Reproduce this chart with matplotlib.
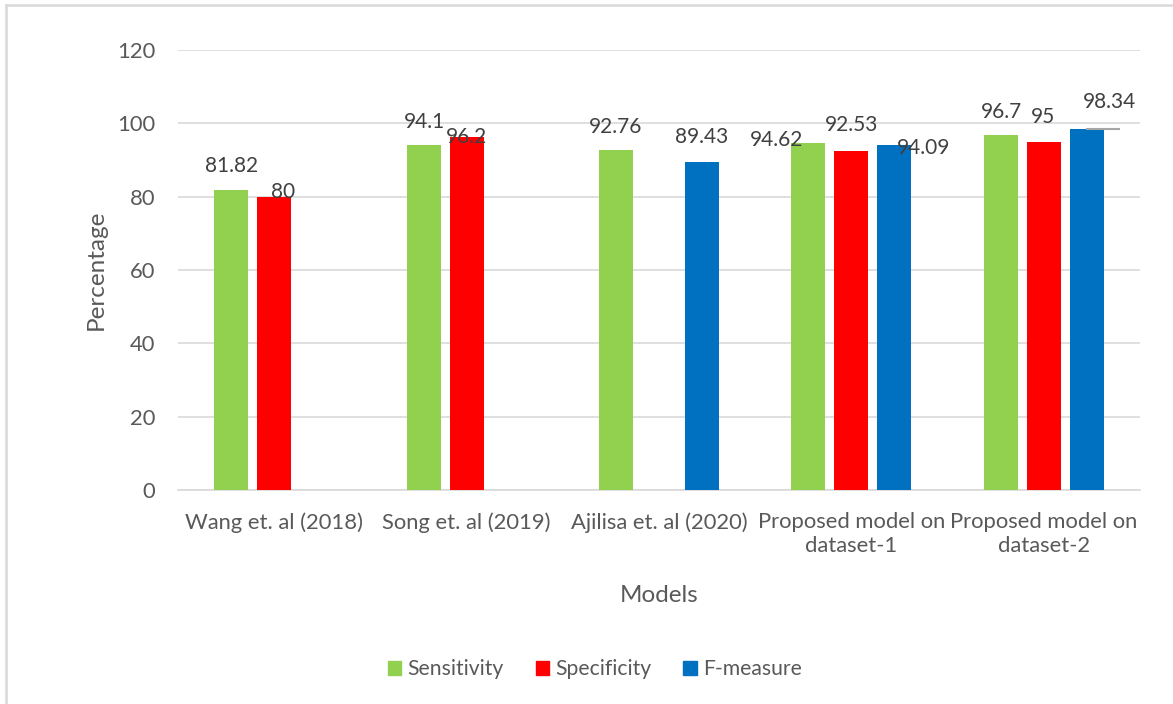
import matplotlib
matplotlib.use("Agg")
import matplotlib.pyplot as plt
from matplotlib.lines import Line2D
import numpy as np

categories = ["Wang et. al (2018)", "Song et. al (2019)", "Ajilisa et. al (2020)",
              "Proposed model on\ndataset-1", "Proposed model on\ndataset-2"]
sensitivity = [81.82, 94.1, 92.76, 94.62, 96.7]
specificity = [80, 96.2, None, 92.53, 95]
f_measure = [None, None, 89.43, 94.09, 98.34]
series_names = ["Sensitivity", "Specificity", "F-measure"]
colors = ["#92d050", "#ff0000", "#0070c0"]
yticks = [0, 20, 40, 60, 80, 100, 120]

# label offsets in pixels (dx, dy) relative to bar top center, mimicking the reference
label_offsets = [
    [(0, 24), (1, 23), (0, 23), (-32, 3), (1, 23)],
    [(9, 5), (0, 0), None, (0, 26), (-1, 25)],
    [None, None, (0, 25), (29, -3), (23, 27)],
]

plt.rcParams['font.family'] = ['Lato', 'DejaVu Sans']
W, H = 1173, 704
fig = plt.figure(figsize=(W / 100, H / 100), dpi=100)
ax = fig.add_axes([178 / W, (H - 490) / H, (1140 - 178) / W, 440 / H])

x = np.arange(len(categories))
bw = 0.177
step = 0.2235
gray = "#595959"
allseries = [sensitivity, specificity, f_measure]
for i, (vals, name, col) in enumerate(zip(allseries, series_names, colors)):
    xs = [xi + (i - 1) * step for xi, v in zip(x, vals) if v is not None]
    vs = [v for v in vals if v is not None]
    ax.bar(xs, vs, width=bw, color=col, label=name, zorder=3)
    for j, v in enumerate(vals):
        if v is None:
            continue
        dx, dy = label_offsets[i][j]
        ax.annotate(f"{v:g}", (x[j] + (i - 1) * step, v), xytext=(dx * 0.72, dy * 0.72),
                    textcoords="offset points", ha="center", va="center",
                    fontsize=15, color="#404040", zorder=5)

# small leader line near top label of last blue bar
ax.plot([x[4] + step, x[4] + step + 0.166], [f_measure[4], f_measure[4]],
        color="#a6a6a6", lw=1.5, zorder=4)

ax.set_xlim(-0.5, len(categories) - 0.5)
ax.set_ylim(0, 120)
ax.set_yticks(yticks)
ax.set_xticks(x)
ax.set_xticklabels(categories, linespacing=1.25)
ax.tick_params(axis="both", length=0, colors=gray, labelsize=15.8)
ax.tick_params(axis="y", pad=16.5)
ax.tick_params(axis="x", pad=16)
ax.grid(axis="y", color="#d9d9d9", lw=1.2, zorder=0)
for s in ["top", "right", "left"]:
    ax.spines[s].set_visible(False)
ax.spines["bottom"].set_color("#d9d9d9")
ax.spines["bottom"].set_linewidth(1.2)
ax.set_ylabel("Percentage", fontsize=17.5, color=gray, labelpad=7)
ax.set_xlabel("Models", fontsize=17.5, color=gray, labelpad=21)

handles = [plt.Rectangle((0, 0), 1, 1, color=c) for c in colors]
fig.legend(handles, series_names, loc="center", bbox_to_anchor=(595 / W, 1 - 669 / H),
           ncol=3, frameon=False, fontsize=15.2, labelcolor=gray,
           handlelength=0.65, handleheight=0.65, handletextpad=0.3, columnspacing=1.5)

# chart border (top and left visible)
fig.add_artist(Line2D([6 / W, 6 / W], [0, 1 - 5 / H], transform=fig.transFigure,
                      color="#d9d9d9", lw=1.8))
fig.add_artist(Line2D([6 / W, 1], [1 - 5 / H, 1 - 5 / H], transform=fig.transFigure,
                      color="#d9d9d9", lw=1.8))

fig.savefig("out.png", dpi=100)
